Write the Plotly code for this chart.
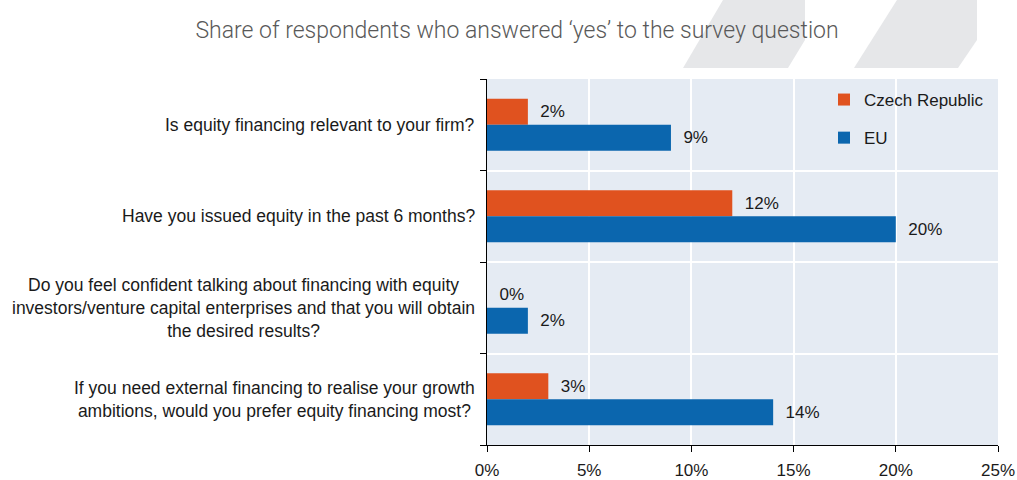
import plotly.graph_objects as go

# ---- data ----
questions = [
    "Is equity financing relevant to your firm?",
    "Have you issued equity in the past 6 months?",
    "Do you feel confident talking about financing with equity<br>investors/venture capital enterprises and that you will obtain<br>the desired results?",
    "If you need external financing to realise your growth<br>ambitions, would you prefer equity financing most?",
]
czech_values = [2, 12, 0, 3]
eu_values = [9, 20, 2, 14]
series_names = ["Czech Republic", "EU"]
title_text = "Share of respondents who answered \u2018yes\u2019 to the survey question"

# ---- style ----
W, H = 1017, 480
ML, MR, MT, MB = 487, 19, 79, 35
PW, PH = W - ML - MR, H - MT - MB
FONT = "Liberation Sans, Arial, sans-serif"
ORANGE = "#E0521F"
BLUE = "#0B66AE"
NB = "\u00a0\u00a0"

cat_ids = list(range(len(questions)))

fig = go.Figure()
for name, vals, col in [(series_names[0], czech_values, ORANGE), (series_names[1], eu_values, BLUE)]:
    fig.add_trace(go.Bar(
        y=cat_ids, x=vals, name=name, orientation="h",
        marker=dict(color=col, line=dict(width=0)),
        text=[f"{NB}{v}%" for v in vals], textposition="outside",
        textfont=dict(family=FONT, size=17, color="#1a1a1a"),
        cliponaxis=False, legendgroup=name,
    ))

def px_to_paper(px, py):
    return (px - ML) / PW, (H - MB - py) / PH

def path(points):
    pts = [px_to_paper(x, y) for x, y in points]
    return "M " + " L ".join(f"{x:.4f},{y:.4f}" for x, y in pts) + " Z"

shapes = [
    dict(type="path", xref="paper", yref="paper", layer="below",
         path=path([(723, 0), (805, 0), (805, 40), (788, 68), (683, 68)]),
         fillcolor="#E6E7E9", line=dict(width=0)),
    dict(type="path", xref="paper", yref="paper", layer="below",
         path=path([(897, 0), (977, 0), (977, 40), (958, 68), (854, 68)]),
         fillcolor="#E6E7E9", line=dict(width=0)),
]

annotations = []
for i, q in enumerate(questions):
    annotations.append(dict(
        x=0, xref="paper", y=i, yref="y", xshift=-10,
        xanchor="right", yanchor="middle", align="center",
        text=q, showarrow=False,
        font=dict(family=FONT, size=17.5, color="#1a1a1a"),
    ))

fig.update_layout(
    width=W, height=H,
    margin=dict(l=ML, r=MR, t=MT, b=MB, pad=0, autoexpand=False),
    paper_bgcolor="white", plot_bgcolor="#E5EBF3",
    barmode="group", bargap=0.43, bargroupgap=0,
    title=dict(text=title_text, x=517 / W, xref="container", xanchor="center",
               y=1 - 30 / H, yref="container", yanchor="middle",
               font=dict(family="Roboto, Liberation Sans, sans-serif", size=23, weight=300, color="#595959")),
    legend=dict(x=(824 - ML) / PW, y=(H - MB - 82) / PH, xanchor="left", yanchor="top",
                bgcolor="rgba(0,0,0,0)", font=dict(family=FONT, size=17, color="#1a1a1a"),
                traceorder="grouped", tracegroupgap=13, itemwidth=30),
    xaxis=dict(range=[0, 25], dtick=5, ticksuffix="%", showgrid=True, gridcolor="white",
               gridwidth=1.5, zeroline=False, showline=True, linecolor="black", linewidth=1,
               ticks="outside", ticklen=6, tickcolor="black", automargin=False,
               ticklabelstandoff=4,
               tickfont=dict(family=FONT, size=17, color="#1a1a1a")),
    yaxis=dict(type="linear", range=[3.5, -0.5], tickvals=[-0.5, 0.5, 1.5, 2.5, 3.5],
               showticklabels=False, showgrid=True, gridcolor="white", gridwidth=1.5,
               zeroline=False, showline=True, linecolor="black", linewidth=1,
               ticks="outside", ticklen=6, tickcolor="black", automargin=False),
    shapes=shapes, annotations=annotations,
    showlegend=True,
)

fig.write_html("out.html")
